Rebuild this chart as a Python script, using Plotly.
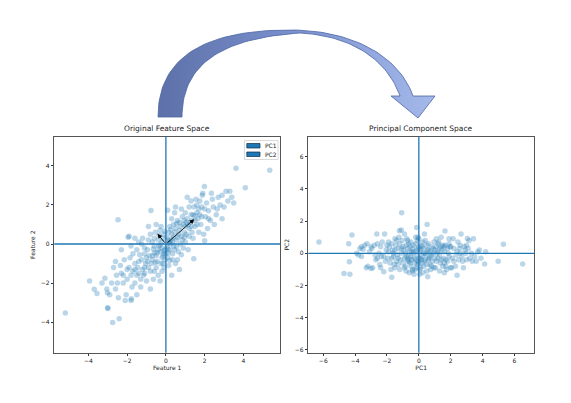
import numpy as np
import plotly.graph_objects as go

W, H = 571, 403
OFF = 8  # the page body margin pushes the figure 8px right and down
FW, FH = W - 2 * OFF, H - 2 * OFF

# points (Feature 1, Feature 2)
feat_pts = [
    (-5.19, -3.54), (-3.94, -1.89), (-3.7, -2.32), (-3.56, -2.54), (-3.05, -2.3), (-3.02, -2.5),
    (-3.01, -3.26), (-2.99, -3.3), (-3.3, -2.0), (-3.15, -1.75),
    (-2.75, -4.02), (-2.41, -3.83), (-2.9, -2.6), (-2.6, -2.3), (-2.45, -2.75), (-2.3, -1.5),
    (-2.55, -1.6), (-2.2, -2.0), (-2.05, -2.6), (-2.1, -2.9), (-2.7, -1.2), (-2.47, 1.24),
    (-2.3, -0.3), (-2.15, -0.8), (-2.6, -0.9), (-2.8, -2.0), (-2.35, -1.1), (-2.0, -1.8),
    (-1.8, -2.9), (-1.78, -2.8), (-1.5, -2.6), (-1.9, -1.2), (-1.7, -0.5), (-1.6, -1.0),
    (-1.5, -1.6), (-1.4, -0.9), (-1.3, -1.8), (-1.2, -1.3), (-1.1, -0.5), (-1.9, 0.4),
    (-1.95, 0.35), (-1.6, 0.3), (-1.4, 0.1), (-1.25, 0.0), (-1.1, -0.2), (-1.8, -0.1),
    (-1.5, -0.3), (-1.05, -1.0), (-1.0, -1.9), (-1.3, -2.2), (-1.7, -1.4), (-1.2, 0.3),
    (-1.6, -2.0), (-1.0, -0.7), (-1.35, -0.55), (-1.85, -0.7), (-1.15, -1.6), (-1.45, -1.2),
    (-0.8, -2.3), (-0.6, -1.4), (-0.9, -1.2), (-0.7, -0.8), (-0.5, -0.6), (-0.3, -0.4),
    (-0.2, -0.2), (-0.4, 0.2), (-0.6, 0.3), (-0.8, 0.5), (-0.9, 0.9), (-0.77, 1.72),
    (-0.5, 1.0), (-0.3, 0.7), (-0.1, 0.5), (-0.15, -0.6), (-0.25, -1.0), (-0.4, -1.6),
    (-0.1, -1.2), (-0.05, -0.3), (-0.6, -0.1), (-0.35, -0.1), (-0.7, 0.1), (-0.95, -0.3),
    (-0.45, -0.9), (-0.2, 0.1), (-0.55, 0.6), (-0.85, -0.6), (-0.3, -1.9), (-0.65, -1.8),
    (-0.15, 0.3), (-0.05, -0.8), (-0.5, -1.2), (-0.75, -1.0), (-0.25, 0.9), (-0.1, -0.5),
    (-0.35, 0.45), (-0.6, -0.45), (-0.9, 0.2), (-0.2, -1.4),
    (0.09, 1.73), (0.1, 0.2), (0.2, -0.3), (0.3, 0.5), (0.1, -0.7), (0.4, -0.1),
    (0.5, 0.8), (0.6, 1.2), (0.3, 1.3), (0.2, 0.9), (0.7, -1.3), (0.5, -1.0),
    (0.8, 0.4), (0.9, 1.0), (0.15, -1.1), (0.35, -0.5), (0.55, 0.2), (0.65, -0.4),
    (0.75, 0.0), (0.85, 1.4), (0.45, 1.6), (0.95, 0.6), (0.25, 0.0), (0.05, -0.15),
    (0.6, -0.8), (0.4, 0.35), (0.7, 0.7), (0.15, 0.6), (0.9, -0.2), (0.5, 1.9),
    (0.3, -1.6), (0.8, 1.8), (0.35, 0.1), (0.12, -0.45), (0.65, 0.5), (0.95, 1.2),
    (0.2, -0.85), (0.45, -0.3), (0.55, 1.05),
    (1.44, -0.76), (1.0, 0.1), (1.2, 0.8), (1.3, 1.5), (1.5, 1.2), (1.6, 2.0),
    (1.7, 0.6), (1.9, 2.6), (1.88, 2.5), (1.99, 2.95), (1.2, 1.9), (1.4, 0.3),
    (1.1, 1.3), (1.6, 1.6), (1.8, 1.0), (1.3, 2.2), (1.5, 0.9), (1.7, 1.8),
    (1.05, 0.5), (1.25, 1.1), (1.45, 1.9), (1.85, 1.4), (1.15, -0.3), (1.35, 0.6),
    (1.55, 2.3), (1.75, 2.2), (1.95, 0.5), (1.1, 2.4), (1.65, 1.3), (1.4, 1.5),
    (1.0, 1.6), (1.85, 1.9),
    (2.0, 0.17), (2.5, 1.0), (2.9, 1.3), (2.2, 1.7), (2.4, 2.3), (2.6, 1.5),
    (2.1, 2.1), (2.3, 1.2), (2.7, 2.4), (2.8, 2.0), (2.15, 0.8), (2.45, 1.9),
    (2.05, 1.4), (2.35, 2.6), (2.65, 1.8), (2.9, 2.5),
    (3.1, 2.7), (3.3, 2.7), (3.5, 2.1), (3.62, 3.88), (3.2, 2.2), (3.4, 2.4), (3.0, 1.9),
    (4.1, 2.89), (5.36, 3.78),
    (-0.3, -0.05), (-0.1, -0.35), (0.05, 0.35), (0.2, 0.15), (-0.4, -0.3), (-0.2, -0.7),
    (0.1, -0.25), (0.3, 0.25), (0.45, 0.6), (0.6, 0.35), (0.75, 0.9), (0.85, 0.2),
    (1.0, 0.9), (1.15, 1.0), (1.3, 0.9), (1.2, 0.4), (0.95, 0.35), (0.7, 1.1),
    (0.4, 1.0), (0.25, 0.75), (-0.05, 0.65), (-0.45, -0.45), (-0.7, -0.6), (-0.95, -0.9),
    (-1.1, -1.2), (-1.25, -0.8), (-0.8, -1.4), (-0.55, -0.95), (-0.65, -0.25), (-0.15, -1.0),
    (0.0, -0.5), (0.15, 0.05), (0.55, -0.15), (0.35, -0.8), (0.8, -0.55), (1.05, 1.1),
    (1.5, 1.45), (1.6, 1.0), (1.75, 1.5), (1.35, 1.2), (2.0, 1.8), (2.2, 1.3),
    (-1.6, -1.3), (-1.8, -1.6), (-2.0, -1.3), (-1.4, -1.5), (-2.2, -1.6), (-2.5, -2.0),
    (-1.75, -2.2), (-1.1, -1.5),
]
feature_1 = [p[0] for p in feat_pts]
feature_2 = [p[1] for p in feat_pts]

# points (PC1, PC2)
pc_pts = [
    (-6.27, 0.7), (6.52, -0.67), (5.31, 0.56), (4.98, -0.5), (-1.08, 2.52), (0.52, 1.79),
    (-0.14, 1.6), (0.56, -1.46), (-1.7, -1.48), (-4.7, -1.25), (-4.33, -1.3), (-4.2, 1.14),
    (-4.36, -0.53), (-4.4, 0.6), (4.13, -0.67), (4.2, 0.1), (2.4, -1.36), (2.65, 1.2),
    (1.64, 1.38), (3.05, 0.92), (3.43, 0.9), (-2.64, 1.2), (-1.22, 1.4), (-1.1, 1.45),
    (-3.9, 0.0), (-3.7, 0.3), (-3.5, 0.25), (-3.3, -0.9), (-3.2, -0.8), (-3.4, 0.5),
    (-3.1, 0.1), (-3.6, -0.2), (-3.0, -0.95), (-3.8, -0.1), (-3.25, 0.6),
    (-2.9, -0.9), (-2.8, 0.5), (-2.6, -0.3), (-2.5, 0.0), (-2.4, 0.4), (-2.2, -1.15),
    (-2.1, -0.5), (-2.7, -0.4), (-2.3, 0.7), (-2.05, 0.2), (-2.95, 0.3), (-2.45, -0.7),
    (-2.15, 1.2), (-2.75, -0.1), (-2.35, -0.2),
    (-1.9, 0.1), (-1.8, -0.6), (-1.7, 0.6), (-1.6, -0.2), (-1.5, 0.9), (-1.4, -0.5),
    (-1.3, 0.3), (-1.2, -1.0), (-1.1, 0.0), (-1.05, 0.8), (-1.95, -0.3), (-1.85, 0.4),
    (-1.75, -1.0), (-1.65, 0.2), (-1.55, -0.7), (-1.45, 0.5), (-1.35, -0.1), (-1.25, 1.0),
    (-1.15, -0.4), (-1.0, 0.4), (-1.9, 0.7), (-1.5, -0.9), (-1.2, 0.6), (-1.6, 0.0),
    (-1.3, -0.7),
    (-0.9, -0.3), (-0.8, 0.5), (-0.7, -0.5), (-0.6, 0.1), (-0.5, -0.8), (-0.4, 0.3),
    (-0.3, -0.3), (-0.2, 0.6), (-0.1, -0.1), (-0.95, 0.2), (-0.85, -0.8), (-0.75, 0.9),
    (-0.65, -0.2), (-0.55, 0.4), (-0.45, -0.4), (-0.35, 0.0), (-0.25, -0.6), (-0.15, 0.2),
    (-0.05, -0.5), (-0.7, -0.35), (-0.6, -1.2), (-0.5, 0.7), (-0.3, -1.3), (-0.8, -1.1),
    (-0.2, 1.0), (-0.4, -1.0), (-0.1, 0.8), (-0.9, 1.2), (-0.55, -0.6), (-0.35, 0.5),
    (-0.65, 0.6), (-0.15, -0.9), (-0.05, 0.3), (-0.45, 0.1), (-0.85, 0.0),
    (0.0, -0.6), (0.05, 0.1), (0.1, -0.9), (0.15, 0.5), (0.2, -0.2), (0.25, -1.2),
    (0.3, 0.3), (0.35, -0.5), (0.4, 0.8), (0.45, -0.1), (0.5, -0.7), (0.55, 0.2),
    (0.6, 0.6), (0.65, -0.3), (0.7, 0.1), (0.75, -1.0), (0.8, 0.4), (0.85, -0.5),
    (0.9, 0.0), (0.95, 0.7), (0.0, 0.9), (0.1, -0.3), (0.2, 0.4), (0.3, -0.8),
    (0.4, 0.0), (0.5, 0.5), (0.6, -0.4), (0.7, -0.7), (0.8, -0.1), (0.9, 0.3),
    (0.05, -1.0), (0.15, -0.4), (0.35, 1.2), (0.95, -0.9),
    (1.0, 0.2), (1.1, -0.5), (1.2, 0.6), (1.3, -0.1), (1.4, 0.4), (1.5, -0.8),
    (1.6, 0.1), (1.7, -0.4), (1.8, 0.3), (1.9, -0.2), (1.05, -0.9), (1.15, 0.0),
    (1.25, 0.7), (1.35, -0.6), (1.45, 0.2), (1.55, -0.3), (1.65, 0.5), (1.75, -1.0),
    (1.85, 0.0), (1.95, 0.4), (1.1, 0.9), (1.3, -1.1), (1.5, 0.5), (1.7, -0.8),
    (1.9, 0.6), (1.2, -0.3), (1.6, -0.6), (1.4, 1.0),
    (2.0, 0.4), (2.1, -0.3), (2.2, 0.3), (2.3, -0.8), (2.4, 0.1), (2.5, -0.4),
    (2.6, 0.5), (2.7, -0.2), (2.8, -0.9), (2.9, 0.2), (2.15, 0.9), (2.35, -0.1),
    (2.55, 0.3), (2.75, -0.5), (2.95, 0.0), (2.05, -0.9), (2.45, 0.7), (2.85, 0.4),
    (3.0, -0.4), (3.1, 0.3), (3.2, -0.3), (3.3, 0.0), (3.5, -0.2), (3.7, 0.1),
    (3.9, -0.3), (3.35, -0.5), (3.8, 0.2), (3.15, 0.8),
    (-0.2, -0.4), (-0.1, -0.7), (0.0, -0.3), (0.1, 0.2), (0.2, -0.6), (-0.3, 0.1),
    (-0.5, -0.2), (-0.6, -0.5), (-0.7, 0.3), (-0.8, -0.2), (0.3, 0.0), (0.4, -0.4),
    (0.6, 0.2), (0.7, -0.2), (0.8, -0.8), (1.0, -0.3), (1.2, 0.1), (1.4, -0.4),
    (1.6, 0.4), (1.8, -0.5), (-1.0, -0.6), (-1.1, 0.3), (-1.3, -0.3), (-1.5, 0.2),
    (-1.7, -0.3), (-2.0, 0.5), (-2.2, -0.2), (-2.6, 0.6), (-3.0, 0.4), (2.2, -0.5),
    (2.6, 0.0), (3.0, 0.5), (-0.4, -1.1), (0.0, 0.4), (0.25, 0.7), (-0.25, -1.0),
    (0.5, -1.1), (1.1, 0.4), (1.3, 0.3), (1.9, 0.9), (-0.9, -0.9), (-0.7, 0.8),
    (0.05, -1.3), (-0.05, 1.0), (1.6, -1.2), (2.0, -0.9), (-1.4, 0.8), (-2.4, -0.9),
    (-3.6, 0.4), (3.6, -0.5),
]
pc1 = [p[0] for p in pc_pts]
pc2 = [p[1] for p in pc_pts]

# principal axes drawn from the origin
pc_names = ["PC1", "PC2"]
pc_vec_x = [1.46, -0.43]
pc_vec_y = [1.27, 0.52]

BLUE = "#1f77b4"


def px(x, y):
    # screen pixel of the reference -> paper fraction of the figure
    return (x - OFF) / FW, 1 - (y - OFF) / FH


def bezier(p0, p1, p2, p3, n=40):
    t = np.linspace(0, 1, n)[:, None]
    p0, p1, p2, p3 = map(np.array, (p0, p1, p2, p3))
    return (1 - t) ** 3 * p0 + 3 * (1 - t) ** 2 * t * p1 + 3 * (1 - t) * t ** 2 * p2 + t ** 3 * p3


fig = go.Figure()

fig.add_trace(go.Scatter(
    x=feature_1, y=feature_2, mode="markers", xaxis="x", yaxis="y", showlegend=False,
    marker=dict(color=BLUE, size=5.5, opacity=0.3, line=dict(width=0)),
))
fig.add_trace(go.Scatter(
    x=pc1, y=pc2, mode="markers", xaxis="x2", yaxis="y2", showlegend=False,
    marker=dict(color=BLUE, size=5.5, opacity=0.3, line=dict(width=0)),
))

# the big curved arrow above the panels, drawn on an overlay axis in screen pixels
outer = np.vstack([
    bezier((158, 117), (158, 60), (200, 30), (290, 30)),
    bezier((290, 30), (355, 30), (400, 58), (413, 96)),
])
inner = np.vstack([
    bezier((400, 96), (388, 62), (355, 36), (300, 33)),
    bezier((300, 33), (225, 38), (182, 62), (182, 117)),
])
head = np.array([(435, 96), (418, 118), (391, 96)])
shape = np.vstack([outer, head, inner, outer[:1]])
fig.add_trace(go.Scatter(
    x=shape[:, 0], y=shape[:, 1], xaxis="x3", yaxis="y3", mode="lines",
    fill="toself", showlegend=False, hoverinfo="skip",
    line=dict(color="#4a64a3", width=0.8),
    fillgradient=dict(type="horizontal", colorscale=[[0, "#5d70a8"], [0.5, "#7b92cf"], [1, "#a5b9ea"]]),
))

x0, x1 = px(54.3, 0)[0], px(280, 0)[0]
x2, x3 = px(308.3, 0)[0], px(534, 0)[0]
yb, yt = px(0, 352.7)[1], px(0, 136.7)[1]

ax_common = dict(
    showline=True, linecolor="#555", linewidth=1, mirror=True, ticks="outside",
    ticklen=2.5, tickwidth=0.7, tickcolor="#333", showgrid=False, zeroline=False,
    tickfont=dict(size=6, color="#222"), automargin=False,
)

fig.update_layout(
    width=FW, height=FH,
    margin=dict(l=0, r=0, t=0, b=0),
    paper_bgcolor="white", plot_bgcolor="rgba(0,0,0,0)",
    font=dict(family="DejaVu Sans", color="#222"),
    showlegend=False,
    xaxis=dict(domain=[x0, x1], range=[-5.76, 5.89], tickvals=[-4, -2, 0, 2, 4],
               title=dict(text="Feature 1", font=dict(size=6), standoff=2), **ax_common),
    yaxis=dict(domain=[yb, yt], range=[-5.57, 5.5], tickvals=[-4, -2, 0, 2, 4],
               title=dict(text="Feature 2", font=dict(size=6), standoff=4), **ax_common),
    xaxis2=dict(domain=[x2, x3], range=[-6.94, 7.23], tickvals=[-6, -4, -2, 0, 2, 4, 6], anchor="y2",
                title=dict(text="PC1", font=dict(size=6), standoff=2), **ax_common),
    yaxis2=dict(domain=[yb, yt], range=[-6.17, 7.24], tickvals=[-6, -4, -2, 0, 2, 4, 6], anchor="x2",
                title=dict(text="PC2", font=dict(size=6), standoff=4), **ax_common),
    xaxis3=dict(domain=[0, 1], range=[OFF, OFF + FW], visible=False, anchor="y3", fixedrange=True),
    yaxis3=dict(domain=[0, 1], range=[OFF + FH, OFF], visible=False, anchor="x3", fixedrange=True),
)

for xr, yr in (("x", "y"), ("x2", "y2")):
    fig.add_shape(type="line", xref=f"{xr} domain", yref=yr, x0=0, x1=1, y0=0, y1=0,
                  line=dict(color=BLUE, width=1.3))
    fig.add_shape(type="line", xref=xr, yref=f"{yr} domain", x0=0, x1=0, y0=0, y1=1,
                  line=dict(color=BLUE, width=1.3))

for vx, vy in zip(pc_vec_x, pc_vec_y):
    fig.add_annotation(x=vx, y=vy, ax=0, ay=0, xref="x", yref="y", axref="x", ayref="y",
                       showarrow=True, arrowhead=2, arrowsize=1, arrowwidth=0.9,
                       arrowcolor="black", text="")

# small matplotlib-style legend box in the upper right of the left panel
lx0, ly0 = px(244.5, 140.5)
lx1, ly1 = px(278, 159.5)
fig.add_shape(type="rect", xref="paper", yref="paper", x0=lx0, x1=lx1, y0=ly1, y1=ly0,
              line=dict(color="#d0d0d0", width=0.8), fillcolor="rgba(255,255,255,0.8)")
for i, name in enumerate(pc_names):
    top = 143.5 + i * 8.5
    ax_, ay_ = px(246.8, top)
    bx_, by_ = px(260, top + 4.5)
    fig.add_shape(type="rect", xref="paper", yref="paper", x0=ax_, x1=bx_, y0=by_, y1=ay_,
                  line=dict(color="#0b2f4a", width=0.7), fillcolor=BLUE)
    tx, ty = px(262.5, top + 2.3)
    fig.add_annotation(text=name, x=tx, y=ty, xref="paper", yref="paper", xanchor="left",
                       yanchor="middle", showarrow=False, font=dict(size=6, color="#222"))

for title, xa, xb in (("Original Feature Space", x0, x1), ("Principal Component Space", x2, x3)):
    fig.add_annotation(text=title, x=(xa + xb) / 2, y=yt + 2 / FH, xref="paper", yref="paper",
                       xanchor="center", yanchor="bottom", showarrow=False,
                       font=dict(size=7.5, color="#222"))

fig.write_html("out.html")
